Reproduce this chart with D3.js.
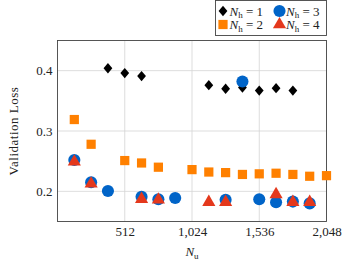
<!DOCTYPE html>
<html>
  <head>
    <meta charset="utf-8" />
    <script src="https://d3js.org/d3.v7.min.js"></script>
    <style>
      body { margin: 0; background: white; }
      text { font-family: "Liberation Serif", serif; fill: #222; }
    </style>
  </head>
  <body>
    <svg id="canvas" width="347" height="264"></svg>
    <script>
      // series data
      const nh1X = [384, 512, 640, 1152, 1280, 1408, 1536, 1664, 1792];
      const nh1Y = [0.404, 0.396, 0.391, 0.376, 0.37, 0.372, 0.367, 0.371, 0.367];
      const nh2X = [128, 256, 512, 640, 768, 1024, 1152, 1280, 1408, 1536, 1664, 1792, 1920, 2048];
      const nh2Y = [0.319, 0.278, 0.251, 0.247, 0.24, 0.236, 0.232, 0.231, 0.228, 0.229, 0.23, 0.228, 0.225, 0.226];
      const nh3X = [128, 256, 384, 640, 768, 896, 1280, 1408, 1536, 1664, 1792, 1920];
      const nh3Y = [0.252, 0.215, 0.2005, 0.191, 0.187, 0.189, 0.186, 0.382, 0.187, 0.182, 0.183, 0.18];
      const nh4X = [128, 256, 640, 768, 1152, 1280, 1664, 1792, 1920];
      const nh4Y = [0.249, 0.2125, 0.187, 0.186, 0.182, 0.182, 0.195, 0.182, 0.182];

      const xTicks = [512, 1024, 1536, 2048];
      const yTicks = [0.2, 0.3, 0.4];

      const pLeft = 57.5, pRight = 326.5, pTop = 40.5, pBottom = 221.5;
      const fs = "13px";

      const svg = d3.select("#canvas");
      const x = d3.scaleLinear().domain([0, 2048]).range([pLeft, pRight]);
      const y = d3.scaleLinear().domain([0.15, 0.45]).range([pBottom, pTop]);

      // grid
      svg.append("g")
        .selectAll("line")
        .data(xTicks)
        .enter()
        .append("line")
        .attr("x1", (d) => x(d)).attr("x2", (d) => x(d))
        .attr("y1", pTop).attr("y2", pBottom)
        .style("stroke", "#d4d4d4").style("stroke-width", 0.8);
      svg.append("g")
        .selectAll("line")
        .data(yTicks)
        .enter()
        .append("line")
        .attr("y1", (d) => y(d)).attr("y2", (d) => y(d))
        .attr("x1", pLeft).attr("x2", pRight)
        .style("stroke", "#d4d4d4").style("stroke-width", 0.8);

      // axes (labels only, frame drawn separately)
      let xAxis = d3.axisBottom(x).tickValues(xTicks).tickFormat(d3.format(",")).tickSize(0).tickPadding(5);
      let xg = svg.append("g").attr("transform", `translate(0,${pBottom})`).call(xAxis);
      let yAxis = d3.axisLeft(y).tickValues(yTicks).tickFormat(d3.format(".1f")).tickSize(0).tickPadding(5);
      let yg = svg.append("g").attr("transform", `translate(${pLeft},0)`).call(yAxis);
      [xg, yg].forEach((g) => {
        g.attr("font-family", null).attr("font-size", null);
        g.select(".domain").remove();
        g.selectAll("text").style("font-family", "'Liberation Serif', serif").style("font-size", fs).style("fill", "#222");
      });

      svg.append("rect")
        .attr("x", pLeft).attr("y", pTop)
        .attr("width", pRight - pLeft).attr("height", pBottom - pTop)
        .style("fill", "none").style("stroke", "#444").style("stroke-width", 0.9);

      svg.append("text")
        .attr("transform", `translate(15,${(pTop + pBottom) / 2}) rotate(-90)`)
        .attr("text-anchor", "middle")
        .attr("dominant-baseline", "middle")
        .style("font-size", fs)
        .style("letter-spacing", "0.5px")
        .text("Validation Loss");

      let xl = svg.append("text")
        .attr("x", x(1024)).attr("y", 256)
        .attr("text-anchor", "middle")
        .style("font-size", fs);
      xl.append("tspan").style("font-style", "italic").text("N");
      xl.append("tspan").attr("dy", 2.5).style("font-size", "9px").text("u");

      // markers
      const diamond = (cx, cy) => `M${cx},${cy - 5.2}L${cx + 4.4},${cy}L${cx},${cy + 5.2}L${cx - 4.4},${cy}Z`;
      const square = d3.symbol().type(d3.symbolSquare).size(85);
      const circle = d3.symbol().type(d3.symbolCircle).size(115);
      const tri = d3.symbol().type(d3.symbolTriangle).size(75);

      const colors = { nh1: "#000000", nh2: "#ff8000", nh3: "#0064c8", nh4: "#e4381c" };

      svg.append("g").selectAll("path")
        .data(nh1X.map((d, i) => ({ x: d, y: nh1Y[i] })))
        .enter().append("path")
        .attr("d", (d) => diamond(x(d.x), y(d.y)))
        .attr("fill", colors.nh1);

      function drawSym(xs, ys, sym, color) {
        svg.append("g").selectAll("path")
          .data(xs.map((d, i) => ({ x: d, y: ys[i] })))
          .enter().append("path")
          .attr("d", sym)
          .attr("transform", (d) => `translate(${x(d.x)},${y(d.y)})`)
          .attr("fill", color);
      }
      drawSym(nh2X, nh2Y, square, colors.nh2);
      drawSym(nh3X, nh3Y, circle, colors.nh3);
      drawSym(nh4X, nh4Y, tri, colors.nh4);

      // legend
      const lg = svg.append("g");
      lg.append("rect")
        .attr("x", 215.5).attr("y", 0.5).attr("width", 111).attr("height", 35)
        .style("fill", "white").style("stroke", "#444").style("stroke-width", 0.9);

      const legendItems = [
        { n: "1", col: 0, row: 0, kind: "diamond" },
        { n: "3", col: 1, row: 0, kind: "circle" },
        { n: "2", col: 0, row: 1, kind: "square" },
        { n: "4", col: 1, row: 1, kind: "tri" },
      ];
      legendItems.forEach((it) => {
        const mx = 223 + it.col * 56.5;
        const my = 11 + it.row * 13.5;
        if (it.kind === "diamond") {
          lg.append("path").attr("d", diamond(mx, my)).attr("fill", colors.nh1);
        } else {
          const sym = it.kind === "circle" ? circle : it.kind === "square" ? square : tri;
          const col = it.kind === "circle" ? colors.nh3 : it.kind === "square" ? colors.nh2 : colors.nh4;
          lg.append("path").attr("d", sym).attr("transform", `translate(${mx},${my})`).attr("fill", col);
        }
        const t = lg.append("text").attr("x", mx + 6.5).attr("y", my + 4.5).style("font-size", fs);
        t.append("tspan").style("font-style", "italic").text("N");
        t.append("tspan").attr("dy", 2.5).style("font-size", "9px").text("h");
        t.append("tspan").attr("dy", -2.5).text(" = " + it.n);
      });
    </script>
  </body>
</html>
